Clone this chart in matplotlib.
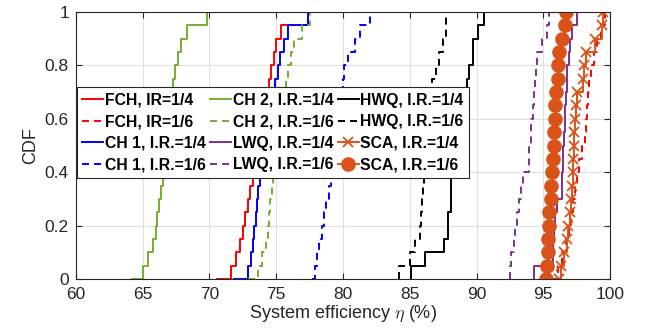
import numpy as np
import matplotlib
matplotlib.use("Agg")
import matplotlib.pyplot as plt

plt.rcParams['font.family'] = ['Liberation Sans', 'DejaVu Sans']
plt.rcParams['mathtext.fontset'] = 'cm'

# CDF levels (0, 0.05, ..., 1) and the efficiency value (%) reached at each level
cdf_levels = [0.00, 0.05, 0.10, 0.15, 0.20, 0.25, 0.30, 0.35, 0.40, 0.45, 0.50,
              0.55, 0.60, 0.65, 0.70, 0.75, 0.80, 0.85, 0.90, 0.95, 1.00]

fch_14 = [70.6, 71.6, 72.0, 72.3, 72.5, 72.65, 72.85, 73.0, 73.25, 73.45, 73.6,
          73.75, 73.9, 74.05, 74.25, 74.45, 74.6, 74.8, 75.0, 75.35, 77.4]
fch_16 = [94.75, 96.1, 96.4, 96.7, 96.9, 97.1, 97.25, 97.4, 97.5, 97.65, 97.87,
          98.1, 98.2, 98.3, 98.35, 98.45, 98.6, 98.8, 99.0, 99.3, 99.65]
ch1_14 = [71.85, 72.85, 73.1, 73.25, 73.35, 73.45, 73.55, 73.65, 73.75, 73.9, 74.0,
          74.15, 74.3, 74.45, 74.65, 74.9, 75.1, 75.3, 75.55, 75.9, 77.4]
ch1_16 = [77.7, 77.9, 78.05, 78.2, 78.4, 78.55, 78.75, 78.95, 79.1, 79.25, 79.35,
          79.5, 79.6, 79.7, 79.85, 80.0, 80.1, 80.4, 80.9, 81.3, 82.0]
ch2_14 = [64.2, 65.05, 65.4, 65.8, 66.0, 66.1, 66.25, 66.35, 66.5, 66.6, 66.7,
          66.8, 66.9, 67.0, 67.15, 67.3, 67.4, 67.65, 67.9, 68.3, 69.8]
ch2_16 = [72.9, 73.65, 73.95, 74.25, 74.4, 74.45, 74.55, 74.65, 74.75, 74.9, 75.05,
          75.2, 75.35, 75.45, 75.6, 75.75, 75.9, 76.1, 76.35, 76.9, 77.5]
lwq_14 = [94.3, 94.3, 95.7, 95.75, 95.8, 95.85, 96.0, 96.38, 96.4, 96.45, 96.5,
          96.55, 96.6, 96.63, 96.7, 96.75, 96.8, 96.9, 97.0, 97.13, 97.5]
lwq_16 = [92.5, 92.5, 92.6, 92.8, 92.9, 93.05, 93.15, 93.3, 93.45, 93.9, 93.96,
          94.05, 94.1, 94.2, 94.3, 94.4, 94.45, 94.5, 94.88, 95.3, 95.45]
hwq_14 = [85.07, 85.07, 86.15, 87.57, 87.84, 87.84, 88.07, 88.07, 88.07, 88.3, 88.5,
          88.7, 88.85, 89.0, 89.15, 89.27, 89.46, 89.7, 89.7, 90.14, 90.56]
hwq_16 = [84.2, 84.2, 85.0, 85.4, 85.77, 85.85, 85.9, 86.0, 86.1, 86.2, 86.3,
          86.35, 86.45, 86.5, 86.6, 86.64, 86.97, 87.2, 87.5, 87.7, 87.7]
sca_14 = [96.21, 96.33, 96.58, 96.76, 96.88, 97.0, 97.08, 97.18, 97.25, 97.25, 97.3,
          97.33, 97.38, 97.43, 97.5, 97.95, 98.08, 98.2, 98.88, 99.38, 99.45]
sca_16 = [95.21, 95.26, 95.33, 95.38, 95.43, 95.46, 95.56, 95.61, 95.68, 95.76, 95.81,
          95.83, 95.86, 95.91, 95.96, 96.08, 96.13, 96.21, 96.41, 96.61, 96.68]

labels = ['FCH, IR=1/4', 'FCH, IR=1/6', 'CH 1, I.R.=1/4', 'CH 1, I.R.=1/6',
          'CH 2, I.R.=1/4', 'CH 2, I.R.=1/6', 'LWQ, I.R.=1/4', 'LWQ, I.R.=1/6',
          'HWQ, I.R.=1/4', 'HWQ, I.R.=1/6', 'SCA, I.R.=1/4', 'SCA, I.R.=1/6']
series = [fch_14, fch_16, ch1_14, ch1_16, ch2_14, ch2_16,
          lwq_14, lwq_16, hwq_14, hwq_16, sca_14, sca_16]

RED = (1, 0, 0)
GREEN = (0.466, 0.674, 0.188)
BLUE = (0, 0, 1)
PURPLE = (0.494, 0.184, 0.556)
BLACK = (0, 0, 0)
ORANGE = (0.85, 0.325, 0.098)
DASH = (0, (3.6, 2.6))
styles = [
    dict(color=RED, ls='-'), dict(color=RED, ls=DASH),
    dict(color=BLUE, ls='-'), dict(color=BLUE, ls=DASH),
    dict(color=GREEN, ls='-'), dict(color=GREEN, ls=DASH),
    dict(color=PURPLE, ls='-'), dict(color=PURPLE, ls=DASH),
    dict(color=BLACK, ls='-'), dict(color=BLACK, ls=DASH),
    dict(color=ORANGE, ls='-', marker='x', ms=6.5, mew=1.3),
    dict(color=ORANGE, ls='-', marker='o', ms=9.5, mfc=ORANGE, mec=ORANGE),
]

fig = plt.figure(figsize=(6.49, 3.33), dpi=100)
ax = fig.add_axes([0.117, 0.162, 0.823, 0.802])

handles = []
for vals, lab, st in zip(series, labels, styles):
    h, = ax.step(vals, cdf_levels, where='post', lw=1.4, label=lab, **st)
    handles.append(h)

ax.set_xlim(60, 100)
ax.set_ylim(0, 1)
ax.set_xticks(np.arange(60, 101, 5))
ax.set_yticks([0, 0.2, 0.4, 0.6, 0.8, 1.0])
ax.set_yticklabels(['0', '0.2', '0.4', '0.6', '0.8', '1'])
ax.grid(True, color='#e0e0e0', lw=0.8)
ax.set_axisbelow(True)
ax.tick_params(direction='in', top=True, right=True, labelsize=12.5,
               colors='#262626', length=4, width=0.8)
ax.tick_params(axis='x', pad=6)
ax.tick_params(axis='y', pad=5)
for s in ax.spines.values():
    s.set_color('#262626')
    s.set_linewidth(0.8)
ax.set_xlabel(r'System efficiency $\eta$ (%)', fontsize=13, color='#262626', labelpad=1)
ax.set_ylabel('CDF', fontsize=13, color='#262626', labelpad=4)

leg = ax.legend(handles=handles, ncol=3, loc='upper left', bbox_to_anchor=(0.002, 0.719),
                prop={'weight': 'bold', 'size': 11.3}, handlelength=1.3,
                handletextpad=0.12, columnspacing=0.3, labelspacing=0.42,
                borderpad=0.35, borderaxespad=0, frameon=True, fancybox=False,
                framealpha=1, edgecolor='#262626')
leg.get_frame().set_linewidth(0.8)

fig.savefig('out.png', dpi=100)
